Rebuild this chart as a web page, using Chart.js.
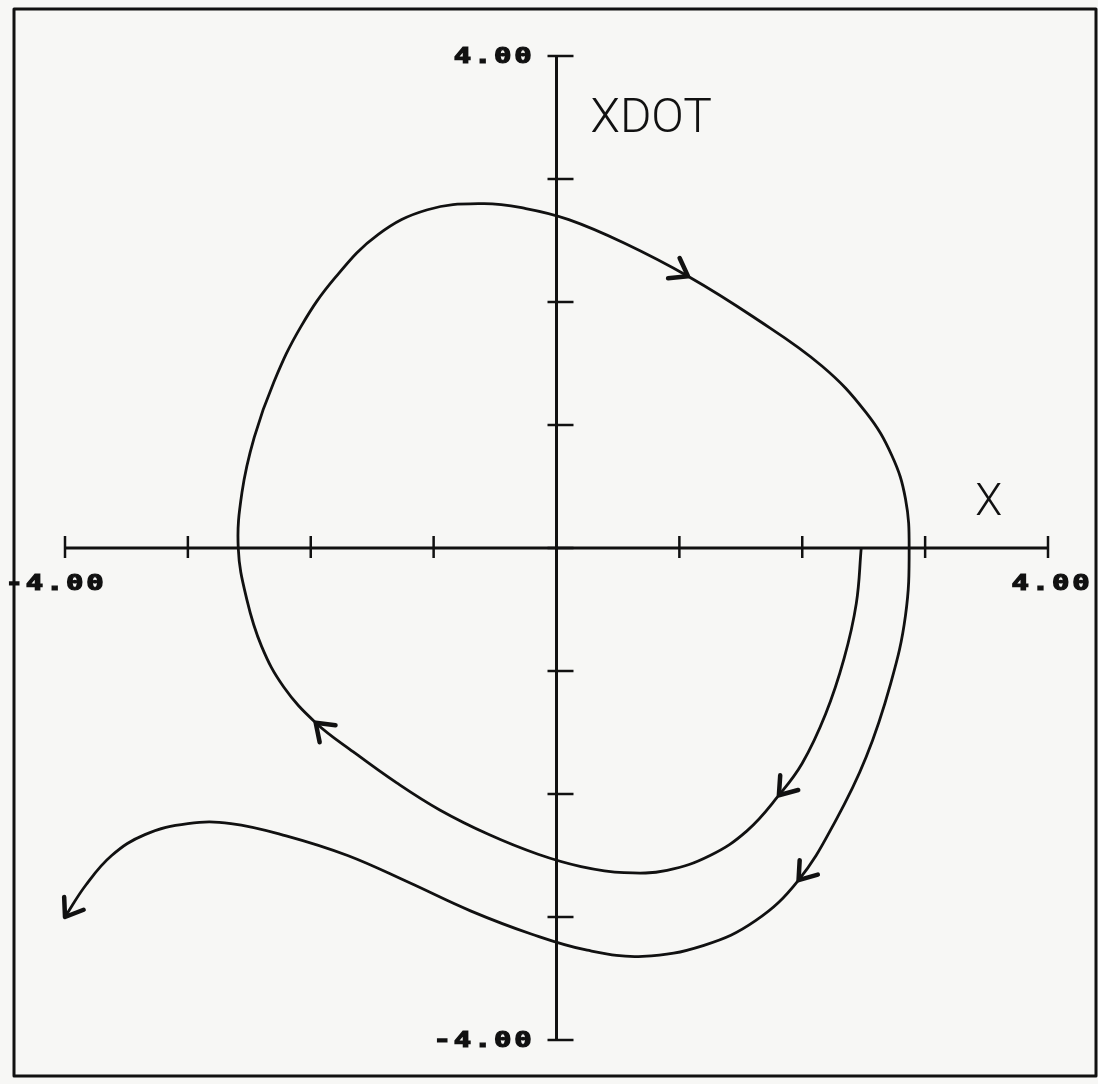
<!DOCTYPE html>
<html><head><meta charset="utf-8">
<script src="https://cdn.jsdelivr.net/npm/chart.js@4.4.1/dist/chart.umd.min.js"></script>
<style>html,body{margin:0;padding:0;background:#f7f7f5;} canvas{display:block}</style>
</head><body>
<canvas id="c" width="1098" height="1084"></canvas>
<script>
// Trajectory (X, XDOT) in order of travel
const trajX = [2.48,2.44,2.34,2.19,2.00,1.81,1.55,1.25,0.90,0.55,0.20,-0.15,-0.55,-0.95,-1.30,-1.65,-1.96,-2.22,-2.40,-2.52,-2.59,-2.56,-2.46,-2.30,-2.08,-1.80,-1.45,-1.05,-0.60,-0.25,0.10,0.55,1.07,1.60,2.16,2.52,2.73,2.84,2.87,2.84,2.72,2.52,2.27,1.97,1.62,1.20,0.70,0.25,-0.20,-0.70,-1.20,-1.70,-2.20,-2.65,-3.00,-3.35,-3.62,-3.83,-4.00];
const trajY = [0.00,-0.45,-0.90,-1.35,-1.75,-2.01,-2.30,-2.50,-2.62,-2.64,-2.59,-2.49,-2.33,-2.13,-1.91,-1.66,-1.42,-1.13,-0.80,-0.42,0.00,0.45,0.90,1.35,1.80,2.20,2.55,2.75,2.80,2.76,2.67,2.48,2.21,1.88,1.48,1.10,0.75,0.40,0.00,-0.55,-1.10,-1.70,-2.22,-2.70,-3.03,-3.23,-3.32,-3.27,-3.14,-2.95,-2.72,-2.50,-2.34,-2.24,-2.24,-2.33,-2.50,-2.74,-3.00];
// Arrowheads located at these trajectory points
const arrowX = [1.07, 1.81, 1.97, -1.96, -4.00];
const arrowY = [2.21, -2.01, -2.70, -1.42, -3.00];
// Axes
const xTicks = [-4,-3,-2,-1,0,1,2,3,4];
const yTicks = [-4,-3,-2,-1,0,1,2,3,4];
const xLabelVals = [-4, 4];
const xLabelText = ['-4.00', '4.00'];
const yLabelVals = [4, -4];
const yLabelText = ['4.00', '-4.00'];
const xTitle = 'X';
const yTitle = 'XDOT';

const points = trajX.map((x, i) => ({x: x, y: trajY[i]}));
const INK = '#111';

function drawPlotterText(ctx, txt, x, y, align) {
  ctx.save();
  ctx.font = 'bold 21px "DejaVu Sans Mono"';
  ctx.letterSpacing = '2px';
  const sx = 1.38;
  const w = ctx.measureText(txt).width * sx;
  let left = x;
  if (align === 'center') left = x - w / 2;
  else if (align === 'right') left = x - w;
  ctx.translate(left, y);
  ctx.scale(sx, 1);
  ctx.textAlign = 'left';
  ctx.textBaseline = 'middle';
  ctx.fillStyle = INK;
  ctx.strokeStyle = INK;
  ctx.lineWidth = 1.2;
  ctx.fillText(txt, 0, 0);
  ctx.strokeText(txt, 0, 0);
  ctx.restore();
}

const overlay = {
  id: 'overlay',
  beforeDraw(chart) {
    const ctx = chart.ctx;
    ctx.save();
    ctx.fillStyle = '#f7f7f5';
    ctx.fillRect(0, 0, chart.width, chart.height);
    ctx.restore();
  },
  afterDatasetsDraw(chart) {
    const ctx = chart.ctx;
    const xs = chart.scales.x, ys = chart.scales.y;
    const x0 = xs.getPixelForValue(0), y0 = ys.getPixelForValue(0);
    ctx.save();
    ctx.strokeStyle = INK;
    ctx.lineCap = 'butt';
    // x axis
    ctx.lineWidth = 3;
    ctx.beginPath();
    ctx.moveTo(xs.getPixelForValue(xTicks[0]), y0);
    ctx.lineTo(xs.getPixelForValue(xTicks[xTicks.length - 1]), y0);
    ctx.stroke();
    // y axis
    ctx.beginPath();
    ctx.moveTo(x0, ys.getPixelForValue(yTicks[yTicks.length - 1]));
    ctx.lineTo(x0, ys.getPixelForValue(yTicks[0]));
    ctx.stroke();
    // ticks
    ctx.lineWidth = 2.5;
    xTicks.forEach(v => {
      const p = xs.getPixelForValue(v);
      ctx.beginPath(); ctx.moveTo(p, y0 - 12); ctx.lineTo(p, y0 + 10); ctx.stroke();
    });
    yTicks.forEach(v => {
      const p = ys.getPixelForValue(v);
      ctx.beginPath(); ctx.moveTo(x0 - 9, p); ctx.lineTo(x0 + 17, p); ctx.stroke();
    });
    // tick labels
    xLabelVals.forEach((v, i) => {
      drawPlotterText(ctx, xLabelText[i], xs.getPixelForValue(v) - (v < 0 ? 9 : -4), y0 + 37, 'center');
    });
    yLabelVals.forEach((v, i) => {
      drawPlotterText(ctx, yLabelText[i], x0 - 22, ys.getPixelForValue(v) + 2, 'right');
    });
    // titles
    ctx.fillStyle = INK;
    ctx.textBaseline = 'alphabetic';
    ctx.textAlign = 'left';
    ctx.font = '300 48px Roboto';
    ctx.fillText(yTitle, x0 + 34, ys.getPixelForValue(3.4) + 2);
    ctx.font = '300 44px Roboto';
    ctx.fillText(xTitle, xs.getPixelForValue(3) + 50, y0 - 33);
    // arrowheads
    const meta = chart.getDatasetMeta(0);
    ctx.lineWidth = 4.5;
    ctx.lineCap = 'round';
    ctx.lineJoin = 'round';
    arrowX.forEach((ax, k) => {
      const i = trajX.findIndex((x, j) => x === ax && trajY[j] === arrowY[k]);
      if (i < 0) return;
      const pt = meta.data[i];
      const a = meta.data[Math.max(0, i - 1)];
      const b = meta.data[Math.min(meta.data.length - 1, i + 1)];
      let dx = b.x - a.x, dy = b.y - a.y;
      const L = Math.hypot(dx, dy); dx /= L; dy /= L;
      const back = Math.atan2(-dy, -dx);
      const len = 20, spread = 0.62;
      ctx.beginPath();
      ctx.moveTo(pt.x + len * Math.cos(back + spread), pt.y + len * Math.sin(back + spread));
      ctx.lineTo(pt.x, pt.y);
      ctx.lineTo(pt.x + len * Math.cos(back - spread), pt.y + len * Math.sin(back - spread));
      ctx.stroke();
    });
    // frame
    ctx.lineWidth = 3;
    ctx.lineCap = 'butt';
    ctx.strokeRect(14, 9, 1082, 1067);
    ctx.restore();
  }
};

new Chart(document.getElementById('c'), {
  type: 'scatter',
  data: {
    datasets: [{
      data: points,
      showLine: true,
      borderColor: INK,
      borderWidth: 2.8,
      pointRadius: 0,
      pointHoverRadius: 0,
      tension: 0.4,
      fill: false
    }]
  },
  options: {
    responsive: false,
    animation: false,
    events: [],
    layout: { padding: { left: 65, right: 50, top: 56, bottom: 44 } },
    plugins: { legend: { display: false }, tooltip: { enabled: false } },
    scales: {
      x: { type: 'linear', min: -4, max: 4, display: false },
      y: { type: 'linear', min: -4, max: 4, display: false }
    }
  },
  plugins: [overlay]
});
</script>
</body></html>
